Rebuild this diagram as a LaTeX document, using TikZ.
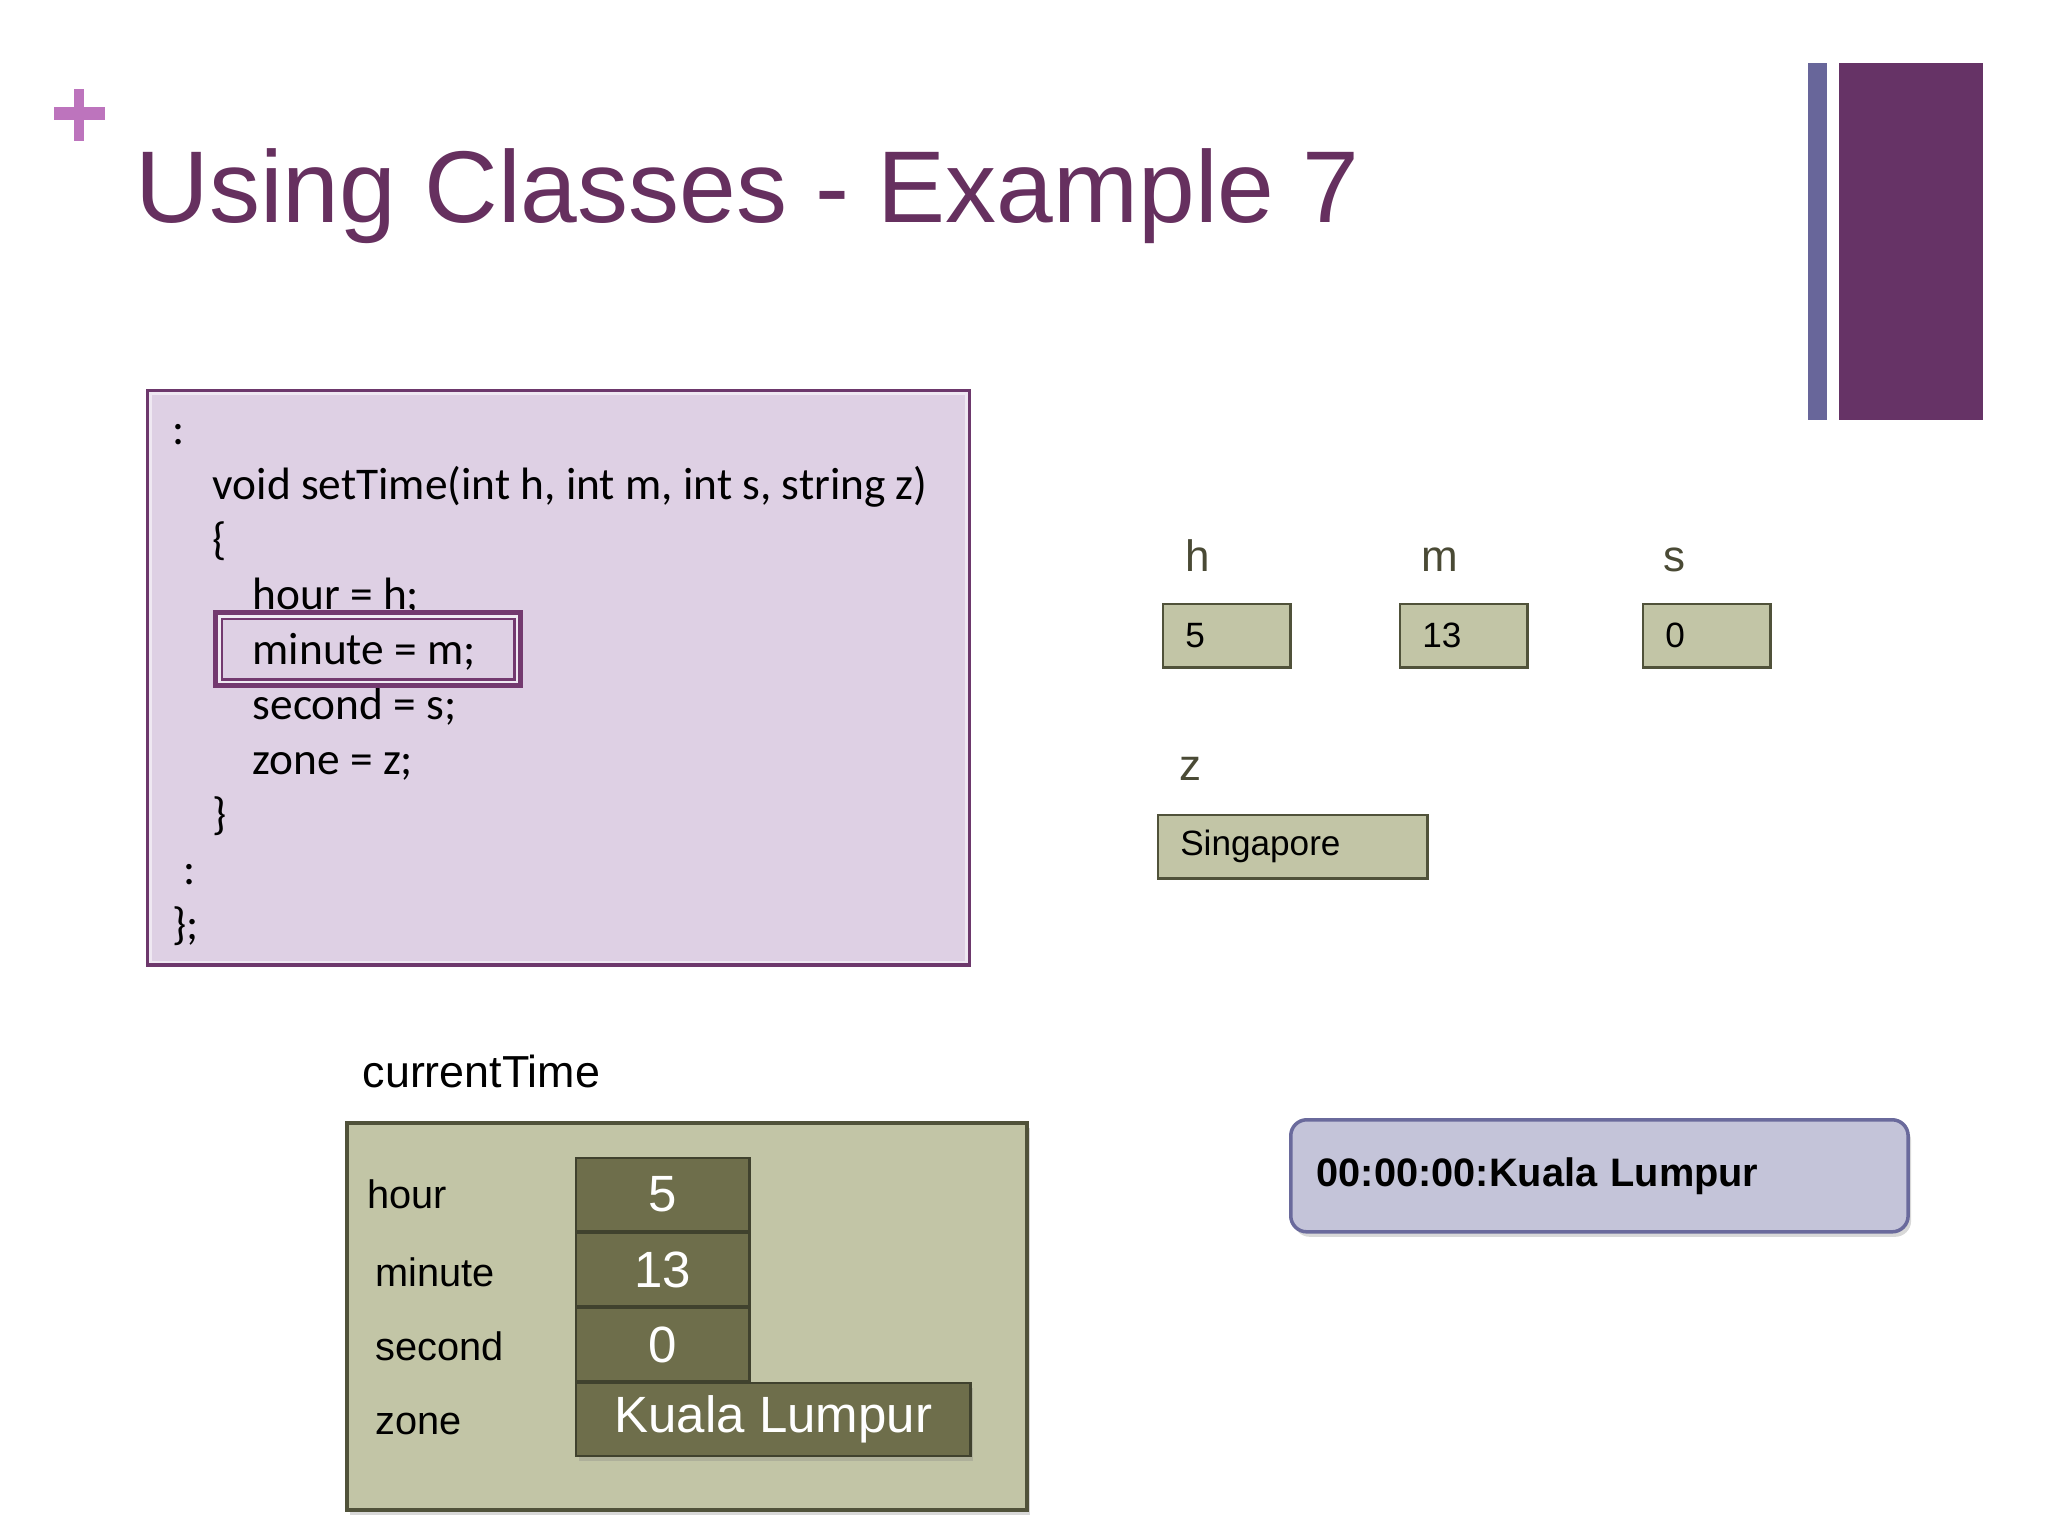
\documentclass[tikz,border=0pt]{standalone}
\usepackage{fontspec}
\setmainfont{Liberation Sans}
\newfontfamily\codefont{Carlito}
\usetikzlibrary{positioning,shadows}
\definecolor{slidePurple}{HTML}{66305F}
\definecolor{slideBar}{HTML}{663366}
\definecolor{slidePlus}{HTML}{BD74BD}
\definecolor{slideBlue}{HTML}{68669A}
\definecolor{codeFill}{HTML}{DED0E4}
\definecolor{codeEdge}{HTML}{6D386C}
\definecolor{codeBevel}{HTML}{EFE8F2}
\definecolor{hiPurple}{HTML}{73396F}
\definecolor{oliveFill}{HTML}{C2C5A6}
\definecolor{oliveEdge}{HTML}{50523A}
\definecolor{oliveDark}{HTML}{6E6E4B}
\definecolor{oliveText}{HTML}{4A4A35}
\definecolor{outFill}{HTML}{C4C4D9}
\definecolor{outEdge}{HTML}{6A6A9C}
\tikzset{
  codeLine/.style={anchor=base west, inner sep=0pt, font=\codefont\fontsize{12.9}{15}\selectfont},
  paramLabel/.style={anchor=base west, inner sep=0pt, text=oliveText, font=\fontsize{12.5}{15}\selectfont},
  paramBox/.style={
    draw=oliveEdge,
    fill=oliveFill,
    line width=0.7pt,
    anchor=north west,
    inner xsep=0.22cm,
    inner ysep=0pt,
    minimum height=0.63cm,
    align=left,
    font=\fontsize{10}{12}\selectfont
  },
  fieldLabel/.style={anchor=base west, inner sep=0pt, font=\fontsize{11.3}{14}\selectfont},
  fieldCell/.style={
    draw=oliveEdge!80!black,
    fill=oliveDark,
    line width=0.7pt,
    text=white,
    minimum height=0.725cm,
    inner sep=0pt,
    font=\fontsize{14.5}{17}\selectfont
  },
  boxShadow/.style={drop shadow={opacity=0.3, shadow xshift=0.03cm, shadow yshift=-0.05cm}}
}

\begin{document}
\begin{tikzpicture}[x=0.01cm,y=-0.01cm]
  \useasboundingbox (0,0) rectangle (2048,1536);
  \fill[white] (0,0) rectangle (2048,1536);

  % slide decoration
  \fill[slidePlus] (54,107) rectangle (105,120);
  \fill[slidePlus] (74,89) rectangle (84,141);
  \fill[slideBlue] (1808,63) rectangle (1827,420);
  \fill[slideBar] (1839,63) rectangle (1983,420);
  \node[anchor=base west, inner sep=0pt, text=slidePurple, font=\fontsize{29}{34}\selectfont]
    (title) at (135,222) {Using Classes - Example 7};

  % code panel
  \node[draw=codeEdge, fill=codeFill, line width=1.2pt, anchor=north west,
        minimum width=8.2cm, minimum height=5.73cm] (codeBox) at (146,389) {};
  \draw[codeBevel, line width=0.8pt]
    ([shift={(0.045cm,-0.045cm)}]codeBox.north west) rectangle ([shift={(-0.045cm,0.045cm)}]codeBox.south east);
  \foreach \n/\x/\y/\txt in {colA/172/444/{:},
      sig/212/499/{void setTime(int h, int m, int s, string z)},
      open/212/554/{\{},
      hour/252/609/{hour = h;},
      minute/252/664/{minute = m;},
      second/252/719/{second = s;},
      zone/252/774/{zone = z;},
      close/212/829/{\}},
      colB/183/884/{:},
      end/172/939/{\};}} {
    \node[codeLine] (code\n) at (\x,\y) {\txt};
  }
  \node[draw=hiPurple, line width=2.9pt, anchor=north west, inner sep=0pt,
        minimum width=3.0cm, minimum height=0.68cm] (minuteHi) at (213,610) {};
  \draw[white!55!codeFill, line width=0.7pt]
    ([shift={(0.065cm,-0.065cm)}]minuteHi.north west) rectangle ([shift={(-0.065cm,0.065cm)}]minuteHi.south east);

  % parameters
  \node[paramLabel] (hLab) at (1185,571) {h};
  \node[paramLabel] (mLab) at (1421,571) {m};
  \node[paramLabel] (sLab) at (1663,571) {s};
  \node[paramLabel] (zLab) at (1179,780) {z};
  \node[paramBox, text width=0.83cm] (hVal) at (1162,603) {5};
  \node[paramBox, text width=0.83cm] (mVal) at (1399,603) {13};
  \node[paramBox, text width=0.83cm] (sVal) at (1642,603) {0};
  \node[paramBox, text width=2.25cm] (zVal) at (1157,814) {Singapore};

  % object currentTime
  \node[anchor=base west, inner sep=0pt, font=\fontsize{12.75}{15}\selectfont]
    (objName) at (362,1087) {currentTime};
  \node[draw=oliveEdge, fill=oliveFill, line width=1pt, boxShadow, anchor=north west,
        minimum width=6.8cm, minimum height=3.87cm] (objBox) at (345,1121) {};
  \node[fieldCell, anchor=north west, minimum width=1.73cm] (hourVal) at (575,1157) {5};
  \node[fieldCell, minimum width=1.73cm, below=0pt of hourVal] (minuteVal) {13};
  \node[fieldCell, minimum width=1.73cm, below=0pt of minuteVal] (secondVal) {0};
  \node[fieldCell, boxShadow, anchor=north west, minimum width=3.94cm]
    (zoneVal) at (secondVal.south west) {Kuala Lumpur};
  \node[fieldLabel] (hourLab) at (367,1208) {hour};
  \node[fieldLabel] (minuteLab) at (375,1286) {minute};
  \node[fieldLabel] (secondLab) at (375,1360) {second};
  \node[fieldLabel] (zoneLab) at (375,1434) {zone};

  % output
  \node[draw=outEdge, fill=outFill, line width=1pt, rounded corners=0.16cm, boxShadow,
        anchor=north west, minimum width=6.17cm, minimum height=1.12cm,
        inner xsep=0.26cm, text width=5.65cm, align=left,
        font=\bfseries\fontsize{11.3}{14}\selectfont] (outBox) at (1289,1118) {00:00:00:Kuala Lumpur};
\end{tikzpicture}
\end{document}
